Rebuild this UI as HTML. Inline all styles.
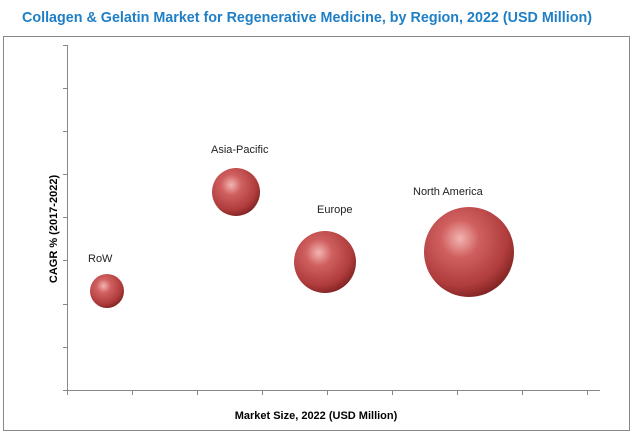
<!DOCTYPE html>
<html><head><style>
body{margin:0;background:#fff;width:633px;height:437px;overflow:hidden;font-family:"Liberation Sans",sans-serif}
</style></head><body>
<svg width="633" height="437" xmlns="http://www.w3.org/2000/svg">
<defs>
<radialGradient id="g" cx="0.4" cy="0.35" r="0.7">
<stop offset="0" stop-color="#f3b5b2"/>
<stop offset="0.3" stop-color="#d06060"/>
<stop offset="0.75" stop-color="#b03c3c"/>
<stop offset="1" stop-color="#7a2020"/>
</radialGradient>
</defs>
<text x="307" y="22" text-anchor="middle" font-size="15" font-weight="bold" fill="#1f7fc6" textLength="570" lengthAdjust="spacingAndGlyphs">Collagen &amp; Gelatin Market for Regenerative Medicine, by Region, 2022 (USD Million)</text>
<rect x="3.5" y="36.5" width="626" height="394" fill="none" stroke="#888"/>
<g stroke="#888" stroke-width="1">
<line x1="67.5" y1="45" x2="67.5" y2="390"/>
<line x1="67" y1="390.5" x2="600" y2="390.5"/>
<line x1="63" y1="390.5" x2="67" y2="390.5"/>
<line x1="63" y1="347.5" x2="67" y2="347.5"/>
<line x1="63" y1="304.5" x2="67" y2="304.5"/>
<line x1="63" y1="260.5" x2="67" y2="260.5"/>
<line x1="63" y1="217.5" x2="67" y2="217.5"/>
<line x1="63" y1="174.5" x2="67" y2="174.5"/>
<line x1="63" y1="131.5" x2="67" y2="131.5"/>
<line x1="63" y1="88.5" x2="67" y2="88.5"/>
<line x1="63" y1="45.5" x2="67" y2="45.5"/>
<line x1="67.5" y1="390" x2="67.5" y2="395"/>
<line x1="132.5" y1="390" x2="132.5" y2="395"/>
<line x1="197.5" y1="390" x2="197.5" y2="395"/>
<line x1="262.5" y1="390" x2="262.5" y2="395"/>
<line x1="327.5" y1="390" x2="327.5" y2="395"/>
<line x1="392.5" y1="390" x2="392.5" y2="395"/>
<line x1="457.5" y1="390" x2="457.5" y2="395"/>
<line x1="522.5" y1="390" x2="522.5" y2="395"/>
<line x1="587.5" y1="390" x2="587.5" y2="395"/>
</g>
<circle cx="107" cy="291" r="17" fill="url(#g)"/>
<circle cx="236" cy="192" r="24" fill="url(#g)"/>
<circle cx="325" cy="262" r="31" fill="url(#g)"/>
<circle cx="469" cy="252" r="45" fill="url(#g)"/>
<g font-size="11" fill="#222">
<text x="88" y="262">RoW</text>
<text x="211" y="153">Asia-Pacific</text>
<text x="317" y="213">Europe</text>
<text x="413" y="195">North America</text>
</g>
<text x="316" y="419" text-anchor="middle" font-size="11" font-weight="bold">Market Size, 2022 (USD Million)</text>
<text transform="translate(57,229) rotate(-90)" text-anchor="middle" font-size="11" font-weight="bold">CAGR % (2017-2022)</text>
</svg>
</body></html>
